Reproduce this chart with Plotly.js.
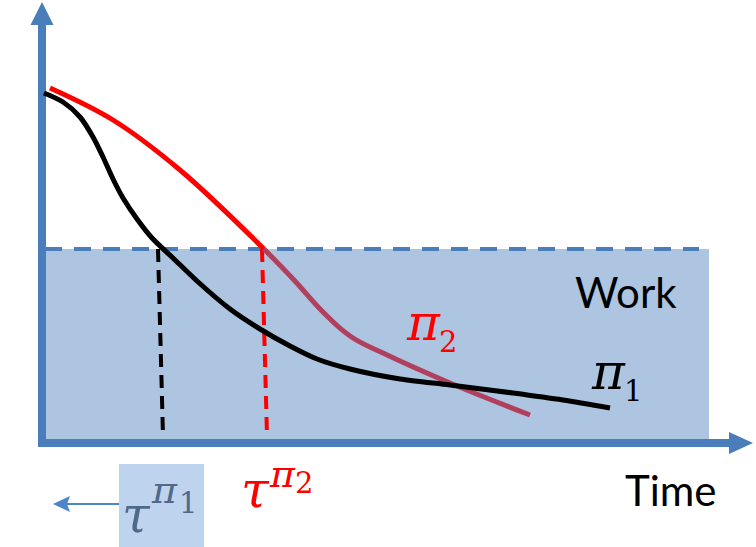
<!DOCTYPE html>
<html>
<head>
<meta charset="utf-8">
<script src="https://cdn.plot.ly/plotly-3.0.1.min.js"></script>
<style>html,body{margin:0;padding:0;background:#fff}#chart{width:756px;height:547px}</style>
</head>
<body>
<div id="chart"></div>
<script>
// ---- data (time on x, work on y; origin at the axis corner) ----
var pi1X = [2, 21, 38, 51, 61, 71, 81, 95, 110, 131, 155, 188, 218, 248, 275, 308, 358, 408, 471, 521, 568];
var pi1Y = [350, 341, 326, 306, 286, 264, 245, 224, 205, 185, 162, 134, 114, 97, 84, 74, 64, 58, 50, 43, 35];

var pi2UpperX = [8, 71, 138, 222];
var pi2UpperY = [355, 323, 273, 194];
var pi2LowerX = [222, 252, 280, 308, 341, 408, 488];
var pi2LowerY = [194, 163, 132, 107, 90, 60, 28];

var workLevel = 194;          // dashed budget line
var workStart = 3, workEnd = 657;
var regionEnd = 667;

var tau1X = [116, 121], tau1Y = [194, 7];
var tau2X = [220, 225], tau2Y = [194, 7];

var labelWork = "Work";
var labelTime = "Time";

var axisColor = "#4a7ebb";
var fillColor = "#adc5e0";

var traces = [
  {x: [workStart, workEnd], y: [workLevel, workLevel], mode: "lines",
   line: {color: axisColor, width: 4, dash: "17px,12px"}, hoverinfo: "skip"},
  {x: tau1X, y: tau1Y, mode: "lines", line: {color: "#000000", width: 4, dash: "13px,8px"}, hoverinfo: "skip"},
  {x: tau2X, y: tau2Y, mode: "lines", line: {color: "#ff0000", width: 4, dash: "13px,8px"}, hoverinfo: "skip"},
  {x: pi2UpperX, y: pi2UpperY, mode: "lines", line: {color: "#ff0000", width: 5, shape: "spline", smoothing: 1}, hoverinfo: "skip"},
  {x: pi2LowerX, y: pi2LowerY, mode: "lines", line: {color: "#b0405e", width: 5, shape: "spline", smoothing: 1.2}, hoverinfo: "skip"},
  {x: pi1X, y: pi1Y, mode: "lines", line: {color: "#000000", width: 5, shape: "spline", smoothing: 0.8}, hoverinfo: "skip"}
];

var shapes = [
  {type: "rect", xref: "x", yref: "y", x0: 4, x1: regionEnd, y0: 0, y1: workLevel, fillcolor: fillColor, line: {width: 0}, layer: "below"},
  {type: "line", xref: "x", yref: "y", x0: 0, x1: 0, y0: -4, y1: 418, line: {color: axisColor, width: 8}, layer: "below"},
  {type: "path", xref: "x", yref: "y", path: "M -11.5 418 L 11.5 418 L 0 441 Z", fillcolor: axisColor, line: {width: 0}, layer: "below"},
  {type: "line", xref: "x", yref: "y", x0: -4, x1: 687, y0: 0, y1: 0, line: {color: axisColor, width: 8}, layer: "below"},
  {type: "path", xref: "x", yref: "y", path: "M 687 11 L 687 -11 L 711 0 Z", fillcolor: axisColor, line: {width: 0}, layer: "below"},
  {type: "rect", xref: "x", yref: "y", x0: 77, x1: 162, y0: -21, y1: -110, fillcolor: "#bdd3ee", line: {width: 0}, layer: "below"},
  {type: "line", xref: "x", yref: "y", x0: 77, x1: 24, y0: -61, y1: -61, line: {color: "#4a86c8", width: 2}, layer: "below"},
  {type: "path", xref: "x", yref: "y", path: "M 11 -61 L 28 -53 L 25 -61 L 28 -69 Z", fillcolor: "#4a86c8", line: {width: 0}, layer: "below"}
];

function txt(x, y, t, size, color, fam, anchor) {
  return {x: x, y: y, xref: "x", yref: "y", text: t, showarrow: false,
    xanchor: anchor || "center", yanchor: "middle",
    font: {family: fam, size: size, color: color}};
}
var serif = "DejaVu Serif";
var sans = "Lato";
var slate = "#50698a";

var annotations = [
  txt(531, 151, labelWork, 42, "#000", sans, "left"),
  txt(581, -47, labelTime, 42, "#000", sans, "left"),
  // pi_2 label
  txt(381, 120, "<i>π</i>", 50, "#ff0000", serif),
  txt(406, 101, "2", 29, "#ff0000", serif),
  // pi_1 label
  txt(566, 71, "<i>π</i>", 50, "#000", serif),
  txt(591, 52, "1", 29, "#000", serif),
  // tau^{pi_1}
  txt(94, -72, "<i>τ</i>", 50, slate, serif),
  txt(122, -47, "<i>π</i>", 38, slate, serif),
  txt(146, -60, "1", 29, slate, serif),
  // tau^{pi_2}
  txt(213, -47, "<i>τ</i>", 50, "#ff0000", serif),
  txt(240, -31, "<i>π</i>", 38, "#ff0000", serif),
  txt(262, -40, "2", 29, "#ff0000", serif)
];

var layout = {
  width: 756, height: 547,
  margin: {l: 0, r: 0, t: 0, b: 0, pad: 0},
  paper_bgcolor: "#ffffff", plot_bgcolor: "#ffffff",
  showlegend: false,
  xaxis: {range: [-42, 714], visible: false, fixedrange: true},
  yaxis: {range: [-104, 443], visible: false, fixedrange: true},
  shapes: shapes,
  annotations: annotations
};

Plotly.newPlot("chart", traces, layout, {displayModeBar: false, staticPlot: true});
</script>
</body>
</html>
